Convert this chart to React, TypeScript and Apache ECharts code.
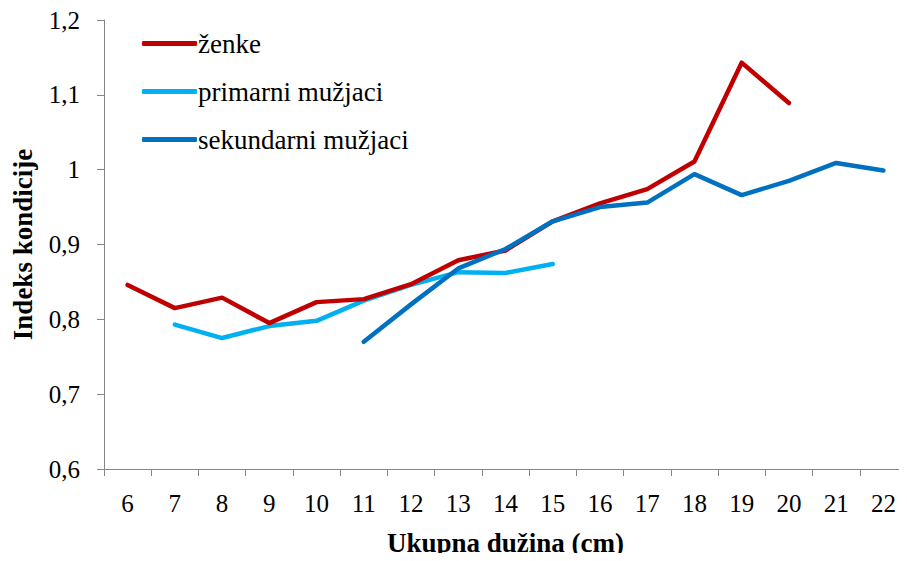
import React, { useEffect, useRef } from "react";
import * as echarts from "echarts";

const categories = ["6","7","8","9","10","11","12","13","14","15","16","17","18","19","20","21","22"];
const zenke = [0.846, 0.815, 0.829, 0.795, 0.823, 0.827, 0.847, 0.879, 0.892, 0.931, 0.955, 0.974, 1.011, 1.143, 1.089, null, null];
const primarni = [null, 0.793, 0.775, 0.791, 0.798, 0.825, 0.846, 0.863, 0.862, 0.874, null, null, null, null, null, null, null];
const sekundarni = [null, null, null, null, null, 0.770, 0.820, 0.868, 0.894, 0.931, 0.950, 0.956, 0.994, 0.966, 0.985, 1.009, 0.999];
const seriesNames = ["ženke", "primarni mužjaci", "sekundarni mužjaci"];
const seriesColors = ["#C00000", "#00B0F0", "#0070C0"];

const FONT = "Liberation Serif";

export default function App() {
  const ref = useRef<HTMLDivElement>(null);
  useEffect(() => {
    if (!ref.current) return;
    const chart = echarts.init(ref.current, undefined, { renderer: "svg" });
    const datasets = [zenke, primarni, sekundarni];
    chart.setOption({
      animation: false,
      textStyle: { fontFamily: FONT, color: "#000" },
      grid: { left: 104, top: 20, width: 813, height: 452, containLabel: false },
      legend: {
        orient: "vertical",
        left: 142,
        top: 30,
        padding: 0,
        itemGap: 21,
        itemWidth: 55,
        itemHeight: 5,
        icon: "roundRect",
        data: seriesNames,
        textStyle: { fontFamily: FONT, fontSize: 27, color: "#000", lineHeight: 27, padding: [0, 0, 0, -4] },
      },
      xAxis: {
        type: "category",
        data: categories,
        boundaryGap: true,
        name: "Ukupna dužina (cm)",
        nameLocation: "middle",
        nameGap: 60,
        nameTextStyle: { fontFamily: FONT, fontSize: 27, fontWeight: "bold", color: "#000" },
        axisLine: { lineStyle: { color: "#868686", width: 1 } },
        axisTick: { show: true, length: 7, alignWithLabel: false, lineStyle: { color: "#868686" } },
        axisLabel: { fontFamily: FONT, fontSize: 25, color: "#000", margin: 22, interval: 0 },
        splitLine: { show: false },
      },
      yAxis: {
        type: "value",
        min: 0.6,
        max: 1.2,
        interval: 0.1,
        name: "Indeks kondicije",
        nameLocation: "middle",
        nameGap: 68,
        nameRotate: 90,
        nameTextStyle: { fontFamily: FONT, fontSize: 27, fontWeight: "bold", color: "#000" },
        axisLine: { show: true, lineStyle: { color: "#868686", width: 1 } },
        axisTick: { show: true, length: 7, lineStyle: { color: "#868686" } },
        axisLabel: {
          fontFamily: FONT,
          fontSize: 25,
          color: "#000",
          margin: 24,
          formatter: (v: number) => String(Number(v.toFixed(1))).replace(".", ","),
        },
        splitLine: { show: false },
      },
      series: datasets.map((d, i) => ({
        name: seriesNames[i],
        type: "line",
        data: d,
        symbol: "none",
        showSymbol: false,
        connectNulls: false,
        color: seriesColors[i],
        lineStyle: { color: seriesColors[i], width: 4.5, cap: "round", join: "round" },
        z: i === 0 ? 3 : i === 1 ? 2 : 4,
      })),
    });
    return () => chart.dispose();
  }, []);
  return <div ref={ref} style={{ width: 907, height: 561, margin: -8 }} />;
}
